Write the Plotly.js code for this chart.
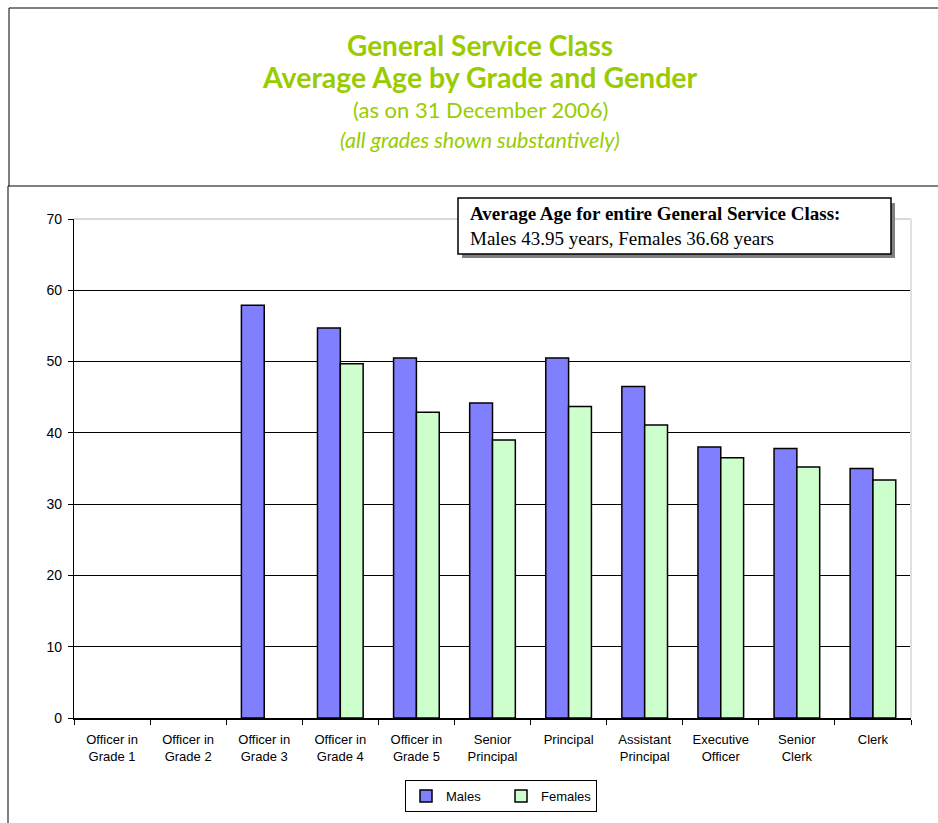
<!DOCTYPE html>
<html><head><meta charset="utf-8">
<script src="https://cdn.plot.ly/plotly-3.0.1.min.js"></script>
<style>html,body{margin:0;padding:0;background:#fff;}#chart{width:938px;height:823px;}</style>
</head><body><div id="chart"></div>
<script>
const categories = ["Officer in<br>Grade 1","Officer in<br>Grade 2","Officer in<br>Grade 3","Officer in<br>Grade 4","Officer in<br>Grade 5","Senior<br>Principal","Principal","Assistant<br>Principal","Executive<br>Officer","Senior<br>Clerk","Clerk"];
const males   = [null, null, 57.9, 54.7, 50.5, 44.2, 50.5, 46.5, 38.0, 37.8, 35.0];
const females = [null, null, null, 49.7, 42.9, 39.0, 43.7, 41.1, 36.5, 35.2, 33.4];
const yTicks = [0,10,20,30,40,50,60,70];

// pixel helpers (plot area: x 74..911, y 219..718)
const L=74, R=911, T=219, B=718;
const px = p => (p-L)/(R-L);
const py = p => (B-p)/(B-T);

const green = "#99cc00";
const traces = [
  {type:"bar", name:"Males", x:categories, y:males, marker:{color:"#8080ff", line:{color:"#000", width:1.5}}},
  {type:"bar", name:"Females", x:categories, y:females, marker:{color:"#ccffcc", line:{color:"#000", width:1.5}}}
];

const shapes = [
  {type:"line", xref:"paper", yref:"paper", x0:px(9), x1:px(945), y0:py(8), y1:py(8), line:{color:"#808080", width:2}},
  {type:"line", xref:"paper", yref:"paper", x0:px(9), x1:px(9), y0:py(8), y1:py(186), line:{color:"#000", width:1}},
  {type:"line", xref:"paper", yref:"paper", x0:px(8), x1:px(945), y0:py(186), y1:py(186), line:{color:"#000", width:1.2}},
  {type:"line", xref:"paper", yref:"paper", x0:px(8), x1:px(8), y0:py(186), y1:py(830), line:{color:"#000", width:1}},
  {type:"line", xref:"paper", yref:"paper", x0:0, x1:1, y0:1, y1:1, line:{color:"#d9d9d9", width:2}},
  {type:"line", xref:"paper", yref:"paper", x0:1, x1:1, y0:0, y1:1, line:{color:"#e0e0e0", width:2}},
  {type:"rect", xref:"paper", yref:"paper", x0:px(462), x1:px(895), y0:py(203), y1:py(258), fillcolor:"#808080", line:{width:0}},
  {type:"rect", xref:"paper", yref:"paper", x0:px(458), x1:px(891), y0:py(198), y1:py(254), fillcolor:"#fff", line:{color:"#000", width:1.5}}
];

const titleAnn = (y, text, size) => ({xref:"paper", yref:"paper", x:px(480), y:py(y), xanchor:"center", yanchor:"middle",
  text:text, showarrow:false, font:{family:"Lato", size:size, color:green}});

const annotations = [
  titleAnn(45, "<b>General Service Class</b>", 28),
  titleAnn(77, "<b>Average Age by Grade and Gender</b>", 28.5),
  titleAnn(109, "(as on 31 December 2006)", 22),
  titleAnn(140, "<i>(all grades shown substantively)</i>", 21.5),
  {xref:"paper", yref:"paper", x:px(468), y:py(226), xanchor:"left", yanchor:"middle", align:"left",
   text:"<b>Average Age for entire General Service Class:</b><br>Males 43.95 years, Females 36.68 years",
   showarrow:false, font:{family:"Liberation Serif", size:19, color:"#000"}}
];

const layout = {
  width:938, height:823,
  margin:{l:L, r:938-R, t:T, b:823-B, autoexpand:false},
  paper_bgcolor:"#fff", plot_bgcolor:"#fff",
  barmode:"group", bargap:0.4, bargroupgap:0,
  font:{family:"Liberation Sans, Arial", size:13, color:"#000"},
  xaxis:{type:"category", tickson:"boundaries", ticks:"outside", ticklen:5, tickcolor:"#000",
         showline:true, linecolor:"#000", linewidth:1.5, showgrid:false, ticklabelstandoff:9,
         tickfont:{family:"Liberation Sans, Arial", size:13, color:"#000"}, fixedrange:true},
  yaxis:{range:[0,70], tickvals:yTicks, ticks:"outside", ticklen:5, tickcolor:"#000",
         showline:true, linecolor:"#000", linewidth:1.2, showgrid:true, gridcolor:"#000", gridwidth:1,
         zeroline:false, ticklabelstandoff:3, tickfont:{family:"Liberation Sans, Arial", size:14, color:"#000"}, fixedrange:true},
  showlegend:true,
  legend:{orientation:"h", x:px(405), y:py(780), xanchor:"left", yanchor:"top",
          bordercolor:"#000", borderwidth:1, bgcolor:"#fff", itemwidth:30,
          font:{family:"Liberation Sans, Arial", size:13, color:"#000"}, entrywidth:50},
  shapes:shapes, annotations:annotations
};
Plotly.newPlot("chart", traces, layout, {displayModeBar:false, staticPlot:true});
</script></body></html>
